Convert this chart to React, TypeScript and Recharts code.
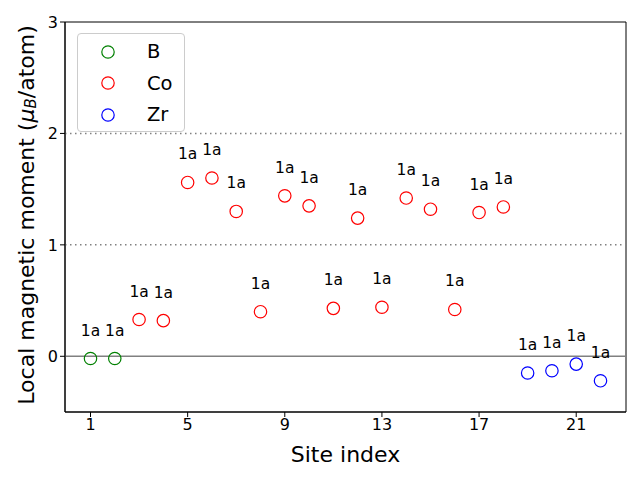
import React from 'react';
import {
  ScatterChart,
  Scatter,
  XAxis,
  YAxis,
  ReferenceLine,
  ReferenceArea,
} from 'recharts';

const SITES = [1, 2, 3, 4, 5, 6, 7, 8, 9, 10, 11, 12, 13, 14, 15, 16, 17, 18, 19, 20, 21, 22];
const MOMENTS = [
  -0.02, -0.02, 0.33, 0.32, 1.56, 1.6, 1.3, 0.4, 1.44, 1.35, 0.43,
  1.24, 0.44, 1.42, 1.32, 0.42, 1.29, 1.34, -0.15, -0.13, -0.07, -0.22,
];
const SPECIES = [
  'B', 'B', 'Co', 'Co', 'Co', 'Co', 'Co', 'Co', 'Co', 'Co', 'Co',
  'Co', 'Co', 'Co', 'Co', 'Co', 'Co', 'Co', 'Zr', 'Zr', 'Zr', 'Zr',
];
const WYCKOFF = SITES.map(() => '1a');

const ELEMENTS = ['B', 'Co', 'Zr'];
const ELEMENT_COLORS: Record<string, string> = { B: '#008000', Co: '#ff0000', Zr: '#0000ff' };

const X_TICKS = [1, 5, 9, 13, 17, 21];
const Y_TICKS = [0, 1, 2, 3];

const FONT = "'DejaVu Sans', sans-serif";

const seriesFor = (el: string) =>
  SITES.map((s, i) => ({ site: s, moment: MOMENTS[i], label: WYCKOFF[i], el: SPECIES[i] })).filter(
    (d) => d.el === el
  );

const makeShape = (color: string) => (props: any) => {
  const { cx, cy, payload } = props;
  return (
    <g>
      <circle cx={cx} cy={cy} r={6.2} fill="none" stroke={color} strokeWidth={1.2} />
      <text
        x={cx}
        y={cy - 28}
        textAnchor="middle"
        dominantBaseline="central"
        fontSize={15.5}
        fontFamily={FONT}
        fill="#000"
      >
        {payload.label}
      </text>
    </g>
  );
};

const LegendBox = () => (
  <div
    style={{
      position: 'absolute',
      left: 77,
      top: 33,
      width: 108,
      height: 99,
      border: '1px solid #cccccc',
      borderRadius: 4,
      background: 'rgba(255,255,255,0.8)',
      boxSizing: 'border-box',
      fontFamily: FONT,
      fontSize: 19.5,
      paddingTop: 2,
    }}
  >
    {ELEMENTS.map((el) => (
      <div key={el} style={{ display: 'flex', alignItems: 'center', height: 31.5 }}>
        <svg width={60} height={20}>
          <circle cx={30} cy={10} r={6.2} fill="none" stroke={ELEMENT_COLORS[el]} strokeWidth={1.2} />
        </svg>
        <span style={{ marginLeft: 9 }}>{el}</span>
      </div>
    ))}
  </div>
);

const YLabel = () => {
  const cy = 215;
  const cx = 26;
  return (
    <text
      x={cx}
      y={cy}
      transform={`rotate(-90 ${cx} ${cy})`}
      textAnchor="middle"
      dominantBaseline="central"
      fontSize={22}
      fontFamily={FONT}
      fill="#000"
    >
      Local magnetic moment (
      <tspan fontStyle="italic">μ</tspan>
      <tspan fontStyle="italic" fontSize={15} dy={5}>B</tspan>
      <tspan dy={-5}>/atom)</tspan>
    </text>
  );
};

const XLabel = () => (
  <text
    x={345.5}
    y={454}
    textAnchor="middle"
    dominantBaseline="central"
    fontSize={22}
    fontFamily={FONT}
    fill="#000"
  >
    Site index
  </text>
);

export default function App() {
  return (
    <div style={{ position: 'absolute', left: 0, top: 0, width: 640, height: 480, background: '#fff' }}>
      <ScatterChart width={640} height={480} margin={{ top: 22, right: 14, bottom: 28, left: 0 }}>
        <XAxis
          type="number"
          dataKey="site"
          domain={[-0.05, 23.05]}
          ticks={X_TICKS}
          allowDataOverflow
          height={40}
          tickSize={5}
          stroke="#000"
          tick={{ fill: '#000', fontSize: 16, fontFamily: FONT }}
          label={<XLabel />}
        />
        <YAxis
          type="number"
          dataKey="moment"
          domain={[-0.5, 3]}
          ticks={Y_TICKS}
          allowDataOverflow
          width={65}
          tickSize={5}
          stroke="#000"
          tick={{ fill: '#000', fontSize: 16, fontFamily: FONT }}
          label={<YLabel />}
        />
        <ReferenceLine y={0} stroke="#808080" strokeWidth={1.5} />
        <ReferenceLine y={1} stroke="#808080" strokeWidth={1.5} strokeDasharray="1.5 3.5" />
        <ReferenceLine y={2} stroke="#808080" strokeWidth={1.5} strokeDasharray="1.5 3.5" />
        <ReferenceArea x1={-0.05} x2={23.05} y1={-0.5} y2={3} fill="none" stroke="#000" strokeWidth={1} />
        {ELEMENTS.map((el) => (
          <Scatter
            key={el}
            name={el}
            data={seriesFor(el)}
            fill="none"
            stroke={ELEMENT_COLORS[el]}
            shape={makeShape(ELEMENT_COLORS[el])}
            isAnimationActive={false}
          />
        ))}
      </ScatterChart>
      <LegendBox />
    </div>
  );
}
